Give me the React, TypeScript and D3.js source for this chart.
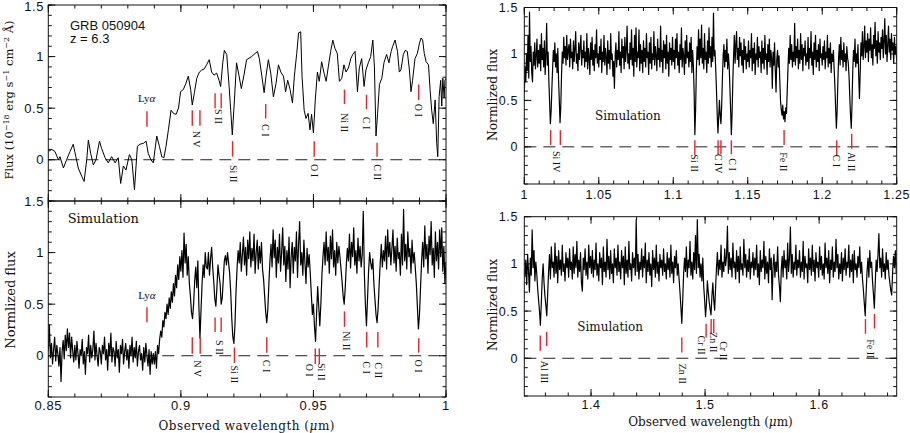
import React from 'react';
import * as d3 from 'd3';

// ---------- observed spectrum GRB 050904 (top-left), wavelength (um) / flux ----------
const obsWave = [
  0.8500,0.8513,0.8525,0.8538,0.8544,0.8557,0.8569,0.8582,0.8594,0.8604,
  0.8613,0.8626,0.8635,0.8645,0.8651,0.8660,0.8670,0.8680,0.8693,0.8701,
  0.8714,0.8726,0.8739,0.8752,0.8764,0.8773,0.8783,0.8793,0.8806,0.8815,
  0.8825,0.8836,0.8846,0.8859,0.8869,0.8877,0.8887,0.8896,0.8909,0.8919,
  0.8928,0.8936,0.8944,0.8953,0.8963,0.8972,0.8982,0.8991,0.8999,0.9009,
  0.9019,0.9028,0.9037,0.9043,0.9051,0.9060,0.9070,0.9079,0.9088,0.9097,
  0.9107,0.9116,0.9125,0.9135,0.9144,0.9150,0.9158,0.9164,0.9173,0.9182,
  0.9188,0.9194,0.9202,0.9210,0.9219,0.9228,0.9238,0.9248,
  0.9267,0.9280,0.9289,0.9296,0.9305,0.9314,0.9321,0.9330,0.9339,0.9349,
  0.9359,0.9368,0.9377,0.9387,0.9395,0.9403,0.9412,0.9421,0.9428,0.9437,
  0.9444,0.9452,0.9457,0.9465,0.9472,0.9480,0.9487,0.9493,0.9500,0.9507,
  0.9515,0.9522,0.9531,0.9540,0.9548,0.9556,0.9565,0.9573,0.9581,0.9590,
  0.9598,0.9607,0.9615,0.9623,0.9632,0.9641,0.9648,0.9657,0.9666,0.9673,
  0.9682,0.9691,0.9698,0.9707,0.9716,0.9724,0.9730,0.9736,0.9742,0.9749,
  0.9758,0.9766,0.9776,0.9785,0.9793,0.9799,0.9808,0.9817,0.9824,0.9830,
  0.9839,0.9846,0.9854,0.9862,0.9868,0.9874,0.9883,0.9892,0.9900,0.9906,
  0.9912,0.9918,0.9925,0.9934,0.9940,0.9946,0.9952,0.9959,0.9965,0.9969,
  0.9974,0.9980,0.9984,0.9988,0.9993,0.9996,1.0000,
];
const obsFlux = [
  0.08,0.10,0.08,0.00,0.03,-0.08,0.00,0.08,0.15,0.03,
  -0.08,-0.16,-0.21,0.00,0.19,0.06,-0.05,0.00,0.18,0.11,
  0.02,-0.03,0.03,-0.03,0.02,-0.23,-0.06,-0.10,0.05,0.00,
  -0.29,0.13,0.15,0.16,0.18,0.06,0.00,-0.03,0.23,0.13,
  0.03,0.02,0.13,0.29,0.48,0.45,0.44,0.50,0.66,0.68,
  0.74,0.81,0.68,0.53,0.65,0.79,0.85,0.87,0.88,0.92,
  0.97,0.85,0.82,0.84,0.77,0.71,0.94,1.06,1.02,0.71,
  0.48,0.24,0.58,0.94,0.82,0.69,0.82,0.97,
  1.00,1.03,1.05,0.98,0.82,0.65,0.81,0.97,0.84,0.61,
  0.74,0.92,0.85,0.81,0.66,0.77,0.68,0.55,0.81,1.03,
  1.23,1.24,0.81,0.48,0.40,0.45,0.29,0.44,0.26,0.58,
  0.85,0.76,0.95,0.84,0.76,0.90,1.05,1.16,1.08,1.03,
  0.76,0.79,0.92,0.85,0.89,0.98,1.02,1.05,0.66,0.89,
  0.98,0.71,0.87,0.94,1.00,1.16,0.90,0.23,0.45,0.73,
  0.79,0.94,1.02,0.94,1.05,1.10,1.16,1.05,0.85,0.87,
  1.02,1.06,1.05,0.87,0.66,0.77,0.98,1.03,1.13,1.18,
  1.16,1.03,0.95,0.92,0.68,0.48,0.35,0.58,0.16,0.03,
  0.61,0.77,0.52,0.79,0.60,0.77,0.79,
];

// ---------- simulated spectrum 0.85-1.0 um (bottom-left), grid start/step ----------
const simAStart = 0.85;
const simAStep = 0.0004;
const simAFlux = [
  0.05,0.30,-0.02,0.12,-0.08,0.06,0.18,-0.05,0.10,0.02,-0.10,0.08,-0.25,0.04,0.15,-0.03,0.20,0.05,0.26,0.08,0.22,-0.02,0.18,0.05,-0.06,
  0.10,-0.04,0.14,0.02,-0.12,0.06,0.00,0.16,-0.08,0.04,-0.18,0.08,0.02,0.20,-0.06,0.10,-0.02,0.06,0.24,-0.04,0.12,0.00,-0.10,0.08,0.04,
  -0.08,0.10,0.02,0.18,-0.04,0.06,-0.14,0.12,0.00,0.22,-0.06,0.08,0.04,-0.10,0.14,-0.02,0.06,-0.16,0.10,0.02,0.16,-0.08,0.04,0.12,-0.04,
  0.06,-0.12,0.10,0.00,0.18,-0.06,0.08,-0.02,0.14,-0.10,0.04,0.10,-0.04,0.02,-0.14,0.08,-0.06,0.12,0.00,-0.10,0.06,-0.18,0.04,-0.08,0.02,
  -0.08,0.04,-0.12,0.10,0.02,0.16,0.24,0.18,0.34,0.28,0.42,0.36,0.50,0.40,0.56,0.46,0.62,0.52,0.70,0.58,0.78,0.66,0.88,0.74,0.96,
  0.82,1.02,0.76,1.19,0.90,1.08,0.78,0.96,0.70,0.58,0.42,0.36,0.50,0.72,0.86,0.66,0.92,0.48,0.17,0.44,0.70,0.88,0.76,1.00,0.86,
  0.84,1.00,0.78,0.94,1.05,0.86,0.72,0.55,0.48,0.66,0.88,0.78,0.70,0.50,0.56,0.74,0.92,0.97,0.88,1.00,0.90,0.80,0.62,0.36,0.18,
  0.12,0.30,0.62,0.85,1.02,0.90,1.10,0.82,0.98,1.15,0.88,1.05,0.78,1.12,0.94,1.20,0.86,1.04,0.92,1.18,0.80,1.00,1.12,0.84,1.06,
  0.90,1.10,0.84,0.74,0.58,0.42,0.32,0.45,0.70,0.92,1.08,0.86,1.22,0.95,1.12,0.76,1.05,0.90,1.18,0.82,1.00,1.24,0.88,1.06,0.72,
  1.02,0.84,1.15,0.66,0.96,1.10,0.80,1.05,0.92,1.20,0.76,1.08,1.30,0.88,1.00,0.78,1.12,0.90,0.70,1.04,0.86,0.98,0.80,0.60,0.40,
  0.50,0.28,0.14,0.42,0.67,0.48,0.29,0.50,0.78,0.96,1.10,0.88,1.20,0.92,1.05,0.80,1.16,0.94,1.22,0.86,1.02,0.78,1.10,0.90,1.06,
  0.96,0.84,0.72,0.58,0.50,0.66,0.88,1.04,0.92,1.18,0.85,1.10,0.96,1.24,0.88,1.02,0.80,1.14,0.92,1.06,0.86,0.98,1.40,0.80,0.50,
  0.29,0.55,0.82,1.00,0.90,0.84,0.94,0.70,0.55,0.40,0.32,0.46,0.70,0.90,1.08,0.86,1.02,0.92,1.16,0.84,1.22,0.96,1.10,0.88,1.04,
  1.22,0.90,1.06,0.82,1.14,0.94,1.00,0.78,1.18,0.88,1.42,0.92,1.08,0.84,1.20,0.96,1.04,0.80,1.12,0.90,1.00,0.86,0.70,0.48,0.26,
  0.40,0.66,0.92,1.10,0.86,1.26,0.94,1.08,0.80,1.16,0.98,1.30,0.88,1.04,0.76,1.20,0.92,1.10,0.84,1.22,0.96,1.24,0.82,1.06,0.70,0.90,
];

// ---------- simulated spectrum 1.0-1.25 um (top-right) ----------
const simBStart = 1.0;
const simBStep = 0.0005;
const simBFlux = [
  0.58,0.86,0.70,1.00,0.82,1.20,0.74,1.45,0.92,1.08,0.80,0.70,1.02,0.88,1.12,0.84,0.98,1.16,0.86,1.04,
  0.90,1.10,0.82,1.22,0.94,1.06,0.86,1.14,0.78,0.98,1.33,0.88,1.02,0.70,0.48,0.25,0.38,0.62,0.84,1.04,
  0.92,1.12,0.86,1.00,0.80,1.06,0.72,0.50,0.26,0.44,0.78,1.02,0.90,1.18,0.96,1.08,0.88,1.20,0.94,1.04,
  1.10,0.86,1.16,0.96,1.02,0.84,1.14,0.92,1.06,1.24,0.90,1.00,0.82,1.12,0.94,1.08,1.20,0.88,1.04,0.96,
  1.14,0.86,1.02,0.92,1.22,0.84,1.06,0.96,0.78,1.12,0.94,1.18,0.88,1.04,0.82,1.10,0.96,1.26,0.90,1.00,
  0.86,1.08,0.94,1.16,0.80,1.02,0.92,1.20,0.88,1.06,0.96,0.78,1.14,0.90,1.04,0.84,1.22,0.94,1.00,0.76,
  0.92,0.63,0.98,1.12,0.86,1.04,0.94,1.24,0.88,1.02,0.80,1.16,0.96,1.08,0.84,1.18,0.92,1.04,1.30,0.90,
  1.00,0.84,1.12,0.94,1.26,0.88,1.06,0.76,1.20,0.92,1.28,0.86,1.02,0.96,1.26,0.82,1.10,0.90,1.04,0.80,
  1.14,0.92,1.06,0.86,1.22,0.96,1.02,0.78,1.12,0.90,1.18,0.84,1.00,0.94,1.24,0.88,1.08,0.98,0.82,1.16,
  0.94,1.06,0.86,1.30,0.92,1.04,0.80,1.14,0.96,1.10,0.84,1.20,0.90,1.02,0.76,1.12,0.94,1.06,0.88,1.18,
  0.92,1.04,0.84,1.16,0.96,1.22,0.88,1.02,0.80,1.10,0.94,1.28,0.86,1.06,0.98,0.78,1.14,0.90,1.20,0.96,
  1.02,0.86,1.12,0.92,1.18,0.80,1.04,0.88,0.60,0.13,0.40,0.82,1.08,0.94,1.26,0.88,1.16,0.96,1.31,0.90,
  1.06,0.84,1.22,0.94,1.02,0.80,1.14,0.90,1.28,0.96,1.08,0.86,1.18,0.92,1.44,0.98,1.04,0.84,0.62,0.35,
  0.15,0.32,0.50,0.34,0.25,0.44,0.74,0.98,1.10,0.86,1.04,0.92,1.16,0.84,1.00,0.88,0.66,0.40,0.13,0.36,
  0.72,0.98,1.20,0.90,1.10,1.24,0.94,1.06,0.86,1.18,0.98,1.12,0.88,1.04,0.80,1.16,0.94,1.08,0.84,1.00,
  0.92,1.14,0.86,1.04,0.96,1.22,0.82,1.06,0.90,1.12,0.78,1.00,0.94,1.18,0.86,1.08,0.96,1.02,0.80,1.14,
  0.90,1.06,0.84,1.20,0.94,1.00,0.78,1.10,0.92,1.16,0.86,1.04,0.96,0.63,1.02,0.88,1.12,0.82,0.59,0.94,
  1.04,0.86,0.98,0.72,0.50,0.40,0.34,0.45,0.30,0.38,0.27,0.42,0.36,0.60,0.84,1.06,0.90,1.20,0.94,1.10,
  0.86,1.02,0.92,1.33,0.88,1.08,0.96,1.16,0.84,1.04,0.90,1.22,0.94,1.10,0.82,1.06,0.98,1.14,0.88,1.00,
  0.92,1.18,0.84,1.06,0.96,1.24,0.88,1.02,0.78,1.12,0.94,1.20,0.86,1.04,0.92,1.10,0.82,1.16,0.96,1.00,
  0.88,1.08,0.94,1.14,0.84,1.02,0.96,1.20,0.86,1.06,0.90,1.12,0.80,1.00,0.92,1.04,0.84,0.66,0.42,0.20,
  0.38,0.70,0.96,1.10,0.88,1.18,0.94,1.04,0.86,1.12,0.92,1.00,0.82,1.08,0.96,0.90,0.76,0.54,0.34,0.20,
  0.46,0.82,1.04,0.92,1.16,0.86,1.00,0.90,1.10,0.76,0.52,0.80,1.12,0.98,1.24,0.94,1.08,1.30,0.96,1.14,
  1.02,1.22,0.92,1.16,1.04,1.28,0.96,1.10,0.88,1.20,1.06,1.34,0.98,1.14,0.90,1.24,1.02,1.12,0.94,1.18,
  1.06,1.26,0.96,1.14,1.38,1.00,1.20,0.92,1.10,1.30,1.02,1.16,0.94,1.22,1.04,1.12,0.90,1.18,1.00,1.08,
  0.92,
];

// ---------- simulated spectrum 1.34-1.67 um (bottom-right) ----------
const simCStart = 1.342;
const simCStep = 0.0008;
const simCFlux = [
  0.86,1.04,0.78,1.10,0.92,0.70,1.06,0.88,1.36,0.96,1.14,0.82,1.02,0.90,0.74,0.62,0.50,0.35,0.58,0.84,1.00,0.80,0.66,0.56,0.45,
  0.68,0.92,1.10,0.84,1.18,0.96,1.02,0.86,1.22,0.90,1.08,0.80,1.14,0.94,1.04,0.88,1.20,0.92,1.00,0.82,1.12,0.96,1.06,0.86,1.16,
  0.94,1.02,0.84,1.18,0.90,1.10,0.96,1.24,0.86,1.04,0.92,1.12,0.80,0.71,1.06,0.94,1.16,0.88,1.02,0.84,1.20,0.96,1.08,0.90,1.14,
  0.86,1.04,0.94,1.22,0.88,1.00,0.82,1.12,0.96,1.06,0.78,1.18,0.92,1.02,0.86,1.26,0.94,1.08,0.84,1.14,0.90,1.00,0.80,1.16,0.96,
  1.06,0.88,1.20,0.92,1.02,0.84,1.14,0.96,1.08,0.78,1.18,0.90,1.04,0.86,1.24,0.94,1.00,0.82,1.12,0.96,1.06,0.88,1.47,0.92,1.10,
  0.84,1.02,0.94,1.16,0.86,1.08,0.96,1.22,0.80,1.04,0.92,1.12,0.88,1.00,0.76,1.14,0.94,1.06,0.86,1.20,0.90,1.02,0.82,1.10,0.96,
  1.04,0.88,1.16,0.92,1.00,0.84,1.12,0.94,1.06,0.86,1.20,0.90,1.02,0.80,1.08,0.96,1.14,0.88,1.00,0.84,0.70,0.54,0.37,0.62,0.90,
  1.06,0.92,1.18,0.86,1.04,0.96,1.24,0.88,1.02,0.84,1.12,0.94,1.30,0.90,1.47,0.96,1.10,0.86,1.00,0.82,1.06,0.76,0.62,0.44,0.58,
  0.82,0.70,0.60,0.52,0.46,0.66,0.80,0.62,0.51,0.74,0.96,1.12,0.88,1.04,0.94,1.20,0.86,1.02,0.92,1.16,0.98,1.08,1.40,0.90,1.12,
  0.94,1.06,0.86,1.22,0.96,1.02,0.84,1.14,0.92,1.08,0.80,1.18,0.94,1.00,0.88,1.26,0.96,1.10,0.86,1.04,0.92,1.16,0.84,1.02,0.96,
  1.12,0.88,1.06,0.94,1.20,0.86,1.00,0.78,1.14,0.92,1.04,0.96,1.24,0.84,1.08,0.90,1.02,0.80,1.16,0.94,1.06,0.62,0.98,1.10,0.86,
  1.02,0.92,1.18,0.88,0.76,0.60,0.94,1.08,0.86,1.14,0.96,1.04,0.84,1.22,0.92,1.06,1.39,0.90,1.10,0.86,1.02,0.94,1.20,0.88,1.04,
  0.96,1.14,0.86,1.02,0.92,1.24,0.84,1.08,0.96,1.00,0.80,1.16,0.94,1.06,0.88,1.20,0.92,1.04,0.82,1.12,0.96,1.02,0.86,1.18,0.94,
  1.08,0.88,1.00,0.84,1.22,0.96,1.06,0.90,1.14,0.80,1.04,0.94,1.18,0.86,1.02,0.92,1.26,0.96,1.10,0.84,1.00,0.90,1.12,0.82,1.06,
  0.94,1.16,0.88,1.02,0.96,1.20,0.86,1.04,0.92,1.10,0.80,1.14,0.94,1.00,0.86,1.08,0.96,1.18,0.90,1.02,0.84,0.72,0.58,0.45,0.70,
  0.92,1.06,0.86,1.14,0.96,1.02,0.82,0.68,0.53,0.80,1.04,0.92,1.10,1.32,0.96,1.06,0.86,1.16,0.92,1.00,0.84,1.12,0.94,1.04,0.88,
  0.80,0.72,0.67,0.90,1.08,0.96,1.14,0.90,
];

// ---------- axes ----------
const yDomain: [number, number] = [-0.4, 1.5];
const yMajor = [0, 0.5, 1, 1.5];
const yMajorLabels = ['0', '0.5', '1', '1.5'];
const leftXMajor = [0.85, 0.9, 0.95, 1.0];
const leftXLabels = ['0.85', '0.9', '0.95', '1'];
const rtXMajor = [1.0, 1.05, 1.1, 1.15, 1.2, 1.25];
const rtXLabels = ['1', '1.05', '1.1', '1.15', '1.2', '1.25'];
const rbXMajor = [1.4, 1.5, 1.6];
const rbXLabels = ['1.4', '1.5', '1.6'];

// ---------- line identifications ----------
type Mark = { w: number[]; y0: number; y1: number };
type Lab = { t: string; w: number; y: number; h?: boolean };

const tlMarks: Mark[] = [
  { w: [0.8872], y0: 0.32, y1: 0.47 },
  { w: [0.9043, 0.9072], y0: 0.33, y1: 0.48 },
  { w: [0.9129, 0.9152], y0: 0.50, y1: 0.645 },
  { w: [0.9195], y0: 0.03, y1: 0.18 },
  { w: [0.9320], y0: 0.40, y1: 0.54 },
  { w: [0.9503], y0: 0.03, y1: 0.18 },
  { w: [0.9617], y0: 0.54, y1: 0.68 },
  { w: [0.9700], y0: 0.49, y1: 0.63 },
  { w: [0.9740], y0: 0.03, y1: 0.165 },
  { w: [0.9897], y0: 0.58, y1: 0.73 },
];
const tlLabels: Lab[] = [
  { t: 'Lyα', w: 0.8871, y: 0.60, h: true },
  { t: 'N V', w: 0.9058, y: 0.20 },
  { t: 'S II', w: 0.9143, y: 0.42 },
  { t: 'Si II', w: 0.9198, y: -0.135 },
  { t: 'C I', w: 0.9319, y: 0.285 },
  { t: 'O I', w: 0.9505, y: -0.105 },
  { t: 'Ni II', w: 0.9618, y: 0.36 },
  { t: 'C I', w: 0.9701, y: 0.355 },
  { t: 'C II', w: 0.9740, y: -0.12 },
  { t: 'O I', w: 0.9898, y: 0.48 },
];

const blMarks: Mark[] = [
  { w: [0.8872], y0: 0.325, y1: 0.47 },
  { w: [0.9043, 0.9073], y0: 0.02, y1: 0.18 },
  { w: [0.9129, 0.9152], y0: 0.23, y1: 0.37 },
  { w: [0.9202], y0: -0.07, y1: 0.08 },
  { w: [0.9324], y0: 0.03, y1: 0.18 },
  { w: [0.9507, 0.9522], y0: -0.08, y1: 0.07 },
  { w: [0.9617], y0: 0.28, y1: 0.43 },
  { w: [0.9701], y0: 0.08, y1: 0.23 },
  { w: [0.9743], y0: 0.08, y1: 0.23 },
  { w: [0.9897], y0: 0.03, y1: 0.17 },
];
const blLabels: Lab[] = [
  { t: 'Lyα', w: 0.8872, y: 0.585, h: true },
  { t: 'N V', w: 0.9061, y: -0.125 },
  { t: 'S II', w: 0.9145, y: 0.08 },
  { t: 'Si II', w: 0.9204, y: -0.18 },
  { t: 'C I', w: 0.9324, y: -0.10 },
  { t: 'O I', w: 0.9487, y: -0.14 },
  { t: 'Si II', w: 0.9532, y: -0.155 },
  { t: 'Ni II', w: 0.9623, y: 0.145 },
  { t: 'C I', w: 0.9700, y: -0.115 },
  { t: 'C II', w: 0.9744, y: -0.14 },
  { t: 'O I', w: 0.9898, y: -0.10 },
];

const rtMarks: Mark[] = [
  { w: [1.0177, 1.0242], y0: 0.02, y1: 0.18 },
  { w: [1.1145], y0: -0.09, y1: 0.07 },
  { w: [1.1301, 1.1320], y0: -0.08, y1: 0.07 },
  { w: [1.1390], y0: -0.08, y1: 0.07 },
  { w: [1.1744], y0: 0.02, y1: 0.18 },
  { w: [1.2097], y0: -0.09, y1: 0.07 },
  { w: [1.2198], y0: -0.02, y1: 0.14 },
];
const rtLabels: Lab[] = [
  { t: 'Si IV', w: 1.0213, y: -0.16 },
  { t: 'Si II', w: 1.1143, y: -0.175 },
  { t: 'C IV', w: 1.1305, y: -0.18 },
  { t: 'C I', w: 1.1400, y: -0.19 },
  { t: 'Fe II', w: 1.1743, y: -0.16 },
  { t: 'C I', w: 1.2097, y: -0.15 },
  { t: 'Al II', w: 1.2198, y: -0.16 },
];

const rbMarks: Mark[] = [
  { w: [1.3555], y0: 0.08, y1: 0.24 },
  { w: [1.3611], y0: 0.13, y1: 0.28 },
  { w: [1.4796], y0: 0.06, y1: 0.22 },
  { w: [1.5009], y0: 0.22, y1: 0.365 },
  { w: [1.5053, 1.5076], y0: 0.265, y1: 0.415 },
  { w: [1.6406], y0: 0.26, y1: 0.415 },
  { w: [1.6485], y0: 0.315, y1: 0.47 },
];
const rbLabels: Lab[] = [
  { t: 'Al III', w: 1.3596, y: -0.145 },
  { t: 'Zn II', w: 1.4801, y: -0.165 },
  { t: 'Cr II', w: 1.4972, y: 0.14 },
  { t: 'Zn II', w: 1.5070, y: 0.17 },
  { t: 'Cr II', w: 1.5165, y: 0.08 },
  { t: 'Fe II', w: 1.6450, y: 0.10 },
];

// ---------- helpers ----------
const RED = '#e3262f';
const SANS = '"Liberation Sans", Arial, Helvetica, sans-serif';
const SERIF = '"DejaVu Serif", "Liberation Serif", serif';
const LSERIF = '"Liberation Serif", "Times New Roman", serif';

function stepTicks(dom: [number, number], step: number): number[] {
  const a = Math.ceil(dom[0] / step - 1e-6);
  const b = Math.floor(dom[1] / step + 1e-6);
  return d3.range(a, b + 1).map((k) => k * step);
}

function gridSeries(start: number, step: number, flux: number[]): [number, number][] {
  return flux.map((f, i) => [start + i * step, f] as [number, number]);
}

type PanelProps = {
  id: string;
  x0: number; x1: number; yTop: number; yBot: number;
  xDom: [number, number];
  xMajor: number[]; xMinorStep: number;
  xLabels: string[] | null; xLabelBase: number;
  data: [number, number][];
  lineWidth: number;
  marks: Mark[]; labels: Lab[];
  yLabelRight: number;
  tickSize: number;
};

function Panel(p: PanelProps) {
  const x = d3.scaleLinear().domain(p.xDom).range([p.x0, p.x1]);
  const y = d3.scaleLinear().domain(yDomain).range([p.yBot, p.yTop]);
  const line = d3.line<[number, number]>().x((d) => x(d[0])).y((d) => y(d[1]));
  const xMinor = stepTicks(p.xDom, p.xMinorStep);
  const yMinor = stepTicks(yDomain, 0.1);
  const MJ = 7;
  const MN = 3.5;
  const tk = { stroke: '#111', strokeWidth: 1 };
  return (
    <g>
      <defs>
        <clipPath id={p.id}>
          <rect x={p.x0} y={p.yTop} width={p.x1 - p.x0} height={p.yBot - p.yTop} />
        </clipPath>
      </defs>
      <line x1={p.x0} x2={p.x1} y1={y(0)} y2={y(0)} stroke="#222" strokeWidth={1} strokeDasharray="12,7" />
      <path d={line(p.data) || ''} fill="none" stroke="#000" strokeWidth={p.lineWidth} strokeLinejoin="round" clipPath={`url(#${p.id})`} />
      {p.marks.map((m, i) =>
        m.w.map((w, j) => (
          <line key={`m${i}-${j}`} x1={x(w)} x2={x(w)} y1={y(m.y0)} y2={y(m.y1)} stroke={RED} strokeWidth={1.4} />
        ))
      )}
      {p.labels.map((l, i) =>
        l.h ? (
          <text key={`l${i}`} x={x(l.w)} y={y(l.y)} dy="0.35em" textAnchor="middle" fontFamily={LSERIF} fontSize={11} fill="#111">
            Ly<tspan fontStyle="italic">α</tspan>
          </text>
        ) : (
          <text key={`l${i}`} transform={`translate(${x(l.w)},${y(l.y)}) rotate(90)`} dy="0.35em" textAnchor="middle" fontFamily={LSERIF} fontSize={10} fill="#111">
            {l.t}
          </text>
        )
      )}
      <rect x={p.x0} y={p.yTop} width={p.x1 - p.x0} height={p.yBot - p.yTop} fill="none" stroke="#111" strokeWidth={1} />
      {xMinor.map((v, i) => (
        <g key={`xm${i}`}>
          <line x1={x(v)} x2={x(v)} y1={p.yBot} y2={p.yBot - MN} {...tk} />
          <line x1={x(v)} x2={x(v)} y1={p.yTop} y2={p.yTop + MN} {...tk} />
        </g>
      ))}
      {p.xMajor.map((v, i) => (
        <g key={`xM${i}`}>
          <line x1={x(v)} x2={x(v)} y1={p.yBot} y2={p.yBot - MJ} {...tk} />
          <line x1={x(v)} x2={x(v)} y1={p.yTop} y2={p.yTop + MJ} {...tk} />
        </g>
      ))}
      {yMinor.map((v, i) => (
        <g key={`ym${i}`}>
          <line x1={p.x0} x2={p.x0 + MN} y1={y(v)} y2={y(v)} {...tk} />
          <line x1={p.x1} x2={p.x1 - MN} y1={y(v)} y2={y(v)} {...tk} />
        </g>
      ))}
      {yMajor.map((v, i) => (
        <g key={`yM${i}`}>
          <line x1={p.x0} x2={p.x0 + MJ} y1={y(v)} y2={y(v)} {...tk} />
          <line x1={p.x1} x2={p.x1 - MJ} y1={y(v)} y2={y(v)} {...tk} />
          <text x={p.yLabelRight} y={Math.max(y(v), 6.5)} dy="0.36em" textAnchor="end" fontFamily={SANS} fontSize={p.tickSize} letterSpacing={0.6} fill="#111">
            {yMajorLabels[i]}
          </text>
        </g>
      ))}
      {p.xLabels &&
        p.xMajor.map((v, i) => (
          <text key={`xl${i}`} x={x(v)} y={p.xLabelBase} textAnchor="middle" fontFamily={SANS} fontSize={p.tickSize} letterSpacing={0.6} fill="#111">
            {p.xLabels![i]}
          </text>
        ))}
    </g>
  );
}

export default function App() {
  const obsData = d3.zip(obsWave, obsFlux) as [number, number][];
  const simA = gridSeries(simAStart, simAStep, simAFlux);
  const simB = gridSeries(simBStart, simBStep, simBFlux);
  const simC = gridSeries(simCStart, simCStep, simCFlux);

  return (
    <svg width={910} height={433} viewBox="0 0 910 433" style={{ position: 'absolute', left: 0, top: 0, background: '#fff' }}>
      <rect x={0} y={0} width={910} height={433} fill="#fff" />
      <Panel id="cTL" x0={48.3} x1={446} yTop={5} yBot={201} xDom={[0.85, 1.0]} xMajor={leftXMajor} xMinorStep={0.01}
        xLabels={null} xLabelBase={0} data={obsData} lineWidth={1} marks={tlMarks} labels={tlLabels} yLabelRight={44} tickSize={13} />
      <Panel id="cBL" x0={48.3} x1={446} yTop={201} yBot={397} xDom={[0.85, 1.0]} xMajor={leftXMajor} xMinorStep={0.01}
        xLabels={leftXLabels} xLabelBase={410} data={simA} lineWidth={1.2} marks={blMarks} labels={blLabels} yLabelRight={44} tickSize={13} />
      <Panel id="cTR" x0={524.3} x1={896.7} yTop={7.5} yBot={184} xDom={[1.0, 1.25]} xMajor={rtXMajor} xMinorStep={0.01}
        xLabels={rtXLabels} xLabelBase={199} data={simB} lineWidth={1.2} marks={rtMarks} labels={rtLabels} yLabelRight={518} tickSize={12.5} />
      <Panel id="cBR" x0={524.3} x1={896.7} yTop={216.7} yBot={396} xDom={[1.3415, 1.668]} xMajor={rbXMajor} xMinorStep={0.02}
        xLabels={rbXLabels} xLabelBase={409} data={simC} lineWidth={1.2} marks={rbMarks} labels={rbLabels} yLabelRight={518} tickSize={12.5} />

      {/* annotations */}
      <text x={70} y={29.5} fontFamily={SANS} fontSize={13} fill="#111">GRB 050904</text>
      <text x={70} y={43} fontFamily={SANS} fontSize={13} fill="#111">z = 6.3</text>
      <text x={67.7} y={223} fontFamily={SERIF} fontSize={13} fill="#111">Simulation</text>
      <text x={595} y={120} fontFamily={SERIF} fontSize={12} fill="#111">Simulation</text>
      <text x={577.3} y={331} fontFamily={SERIF} fontSize={12} fill="#111">Simulation</text>

      {/* axis titles */}
      <text x={246.7} y={429.5} textAnchor="middle" fontFamily={SERIF} fontSize={12} letterSpacing={0.5} fill="#111">
        Observed wavelength (<tspan fontStyle="italic">μ</tspan>m)
      </text>
      <text x={710.5} y={426} textAnchor="middle" fontFamily={SERIF} fontSize={12} fill="#111">
        Observed wavelength (<tspan fontStyle="italic">μ</tspan>m)
      </text>
      <text transform="translate(12.5,100) rotate(-90)" textAnchor="middle" fontFamily={SERIF} fontSize={11.5} fill="#111">
        Flux (10<tspan dy={-4} fontSize={8}>−18</tspan><tspan dy={4}> erg s</tspan><tspan dy={-4} fontSize={8}>−1</tspan><tspan dy={4}> cm</tspan><tspan dy={-4} fontSize={8}>−2</tspan><tspan dy={4}> Å)</tspan>
      </text>
      <text transform="translate(15,300) rotate(-90)" textAnchor="middle" fontFamily={SERIF} fontSize={13} fill="#111">
        Normlized flux
      </text>
      <text transform="translate(496.5,95) rotate(-90)" textAnchor="middle" fontFamily={SERIF} fontSize={12.3} fill="#111">
        Normlized flux
      </text>
      <text transform="translate(496.5,305) rotate(-90)" textAnchor="middle" fontFamily={SERIF} fontSize={12.3} fill="#111">
        Normlized flux
      </text>
    </svg>
  );
}
